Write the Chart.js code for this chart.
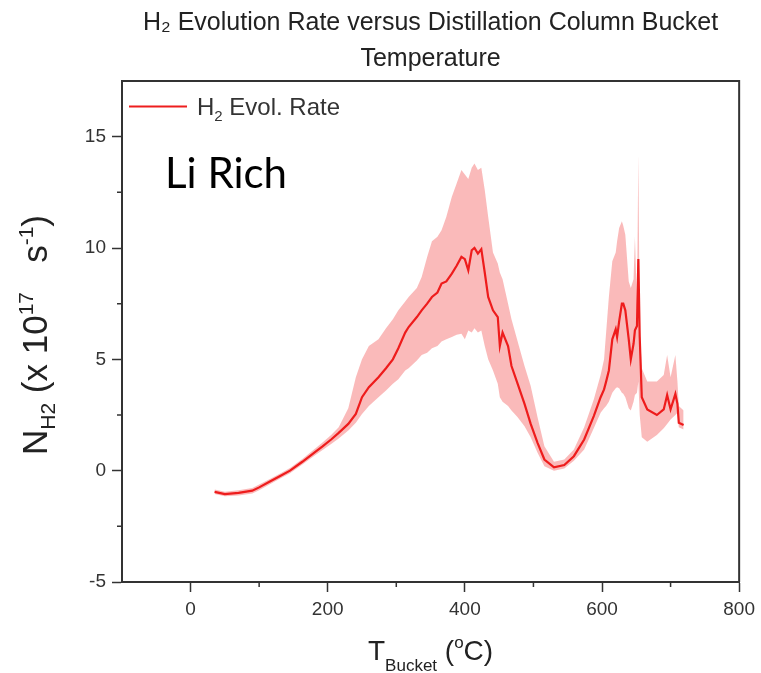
<!DOCTYPE html>
<html>
<head>
<meta charset="utf-8">
<script src="https://cdn.jsdelivr.net/npm/chart.js@4/dist/chart.umd.min.js"></script>
<style>
html,body{margin:0;padding:0;background:#fff;}
#wrap{position:relative;width:761px;height:673px;}
</style>
</head>
<body>
<div id="wrap"><canvas id="c"></canvas></div>
<script>
// ---- data ----
const temps = [35,50,70,90,100,115,130,145,163,180,192,205,216,230,241,250,260,274,285,295,303,313,318,330,337,345,352,360,366,373,381,388,395,400,405,410,414,419,424,429,434,441,448,451,455,463,468,477,487,496,506,516,530,545,559,574,588,598,603,606,610,615,620,622,625,629,631,634,639,642,646,648,651,653,655,658,666,680,690,695,700,707,710,712,719];
const meanRate = [-0.95,-1.05,-1.0,-0.9,-0.75,-0.5,-0.25,0.0,0.4,0.8,1.08,1.4,1.7,2.1,2.55,3.3,3.75,4.2,4.6,5.0,5.5,6.2,6.45,6.9,7.2,7.5,7.8,8.0,8.4,8.5,8.85,9.2,9.6,9.5,9.0,9.9,10.0,9.75,9.95,8.9,7.8,7.2,6.9,5.6,6.2,5.6,4.7,3.9,3.0,2.1,1.25,0.5,0.15,0.25,0.65,1.4,2.45,3.3,3.65,4.0,4.5,5.9,6.35,6.0,6.7,7.5,7.5,7.2,5.9,5.0,5.7,6.3,6.5,9.5,6.0,3.3,2.75,2.5,2.75,3.4,2.75,3.45,3.0,2.15,2.05];
const lowerRate = [-1.05,-1.15,-1.12,-1.02,-0.88,-0.62,-0.36,-0.12,0.28,0.66,0.92,1.2,1.45,1.8,2.15,2.55,2.9,3.3,3.6,3.9,4.1,4.5,4.6,4.95,5.2,5.3,5.5,5.6,5.8,5.9,6.0,6.1,6.15,5.9,6.3,6.2,6.4,6.2,6.3,5.6,5.0,4.5,3.9,3.3,3.1,2.9,2.7,2.4,2.0,1.5,0.8,0.2,0.0,0.1,0.45,0.95,1.9,2.6,2.8,2.9,3.1,3.5,3.7,3.75,3.7,3.5,3.45,3.3,2.8,2.7,3.1,3.4,3.5,4.0,2.5,1.5,1.3,1.6,1.9,2.1,2.3,2.5,2.6,1.95,1.85];
const upperRate = [-0.85,-0.95,-0.88,-0.78,-0.62,-0.38,-0.14,0.12,0.52,0.95,1.25,1.6,1.95,2.8,4.2,5.0,5.6,5.9,6.4,6.8,7.2,7.6,7.8,8.2,8.7,9.6,10.3,10.5,10.8,11.4,12.3,12.9,13.5,13.3,13.1,13.6,13.8,13.5,13.6,12.6,11.4,9.8,9.3,8.9,8.6,7.5,6.8,5.8,4.7,3.8,2.4,1.1,0.4,0.5,0.95,1.95,3.2,4.3,5.0,6.2,7.8,9.4,9.8,10.3,10.9,11.2,11.0,10.6,8.5,8.2,8.6,10.5,7.5,14.2,6.5,4.6,4.0,4.0,4.3,5.2,4.2,5.2,4.0,2.9,2.7];
const xMinorTicks = [100,300,500,700];
const yMinorTicks = [-2.5,2.5,7.5,12.5];
const titleLines = ['H\u2082 Evolution Rate versus Distillation Column Bucket','Temperature'];
const legendLabel = ['H','2',' Evol. Rate'];
const annotationText = 'Li Rich';

const pts = arr => temps.map((t,i)=>({x:t,y:arr[i]}));
const SANS = "'Liberation Sans', Arial, Helvetica, sans-serif";
const AX = '#333';

function drawRich(ctx, segs, x, y, align){
  let w = 0;
  segs.forEach(s=>{ctx.font=s.font; s.w=ctx.measureText(s.t).width; w+=s.w;});
  let cx = align==='center' ? x-w/2 : x;
  segs.forEach(s=>{ctx.font=s.font; ctx.fillText(s.t,cx,y+(s.dy||0)); cx+=s.w;});
}

const decor = {
  id:'decor',
  afterDraw(chart){
    const {ctx, chartArea:a, scales:{x,y}} = chart;
    ctx.save();
    // frame (top & right)
    ctx.strokeStyle = AX; ctx.lineWidth = 2;
    ctx.beginPath();
    ctx.moveTo(a.left, a.top); ctx.lineTo(a.right, a.top); ctx.lineTo(a.right, a.bottom);
    ctx.stroke();
    // minor ticks
    ctx.lineWidth = 1.5;
    ctx.beginPath();
    xMinorTicks.forEach(v=>{const px=x.getPixelForValue(v); ctx.moveTo(px,a.bottom); ctx.lineTo(px,a.bottom+5);});
    yMinorTicks.forEach(v=>{const py=y.getPixelForValue(v); ctx.moveTo(a.left,py); ctx.lineTo(a.left-5,py);});
    ctx.stroke();
    // legend
    ctx.strokeStyle = 'rgb(238,30,30)'; ctx.lineWidth = 2.2;
    ctx.beginPath(); ctx.moveTo(129,106.5); ctx.lineTo(187,106.5); ctx.stroke();
    ctx.fillStyle = '#333'; ctx.textBaseline='alphabetic'; ctx.textAlign='left';
    drawRich(ctx,[
      {t:legendLabel[0],font:'24px '+SANS},
      {t:legendLabel[1],font:'15px '+SANS,dy:6},
      {t:legendLabel[2],font:'24px '+SANS}
    ],197,115,'left');
    // annotation
    ctx.fillStyle = '#000';
    ctx.font = "42px Lato, 'Open Sans', sans-serif";
    ctx.fillText(annotationText,165,188);
    // x title
    ctx.fillStyle = '#222';
    drawRich(ctx,[
      {t:'T',font:'28px '+SANS},
      {t:'Bucket',font:'17px '+SANS,dy:11},
      {t:' (',font:'28px '+SANS},
      {t:'o',font:'17px '+SANS,dy:-12},
      {t:'C)',font:'28px '+SANS}
    ],(a.left+a.right)/2,660,'center');
    // y title
    ctx.translate(47,335); ctx.rotate(-Math.PI/2);
    drawRich(ctx,[
      {t:'N',font:'35px '+SANS},
      {t:'H2',font:'21px '+SANS,dy:8},
      {t:' (x 10',font:'35px '+SANS},
      {t:'17',font:'21px '+SANS,dy:-14},
      {t:'   s',font:'35px '+SANS},
      {t:'-1',font:'21px '+SANS,dy:-14},
      {t:')',font:'35px '+SANS}
    ],0,0,'center');
    ctx.restore();
  }
};

new Chart(document.getElementById('c'),{
  type:'line',
  data:{datasets:[
    {label:'H\u2082 Evol. Rate',data:pts(meanRate),borderColor:'rgb(238,28,28)',borderWidth:2.2,pointRadius:0,fill:false,tension:0},
    {label:'lower',data:pts(lowerRate),borderWidth:0,borderColor:'rgba(0,0,0,0)',pointRadius:0,fill:false,tension:0},
    {label:'upper',data:pts(upperRate),borderWidth:0,borderColor:'rgba(0,0,0,0)',pointRadius:0,fill:1,backgroundColor:'rgba(247,140,140,0.6)',tension:0}
  ]},
  options:{
    responsive:true,maintainAspectRatio:false,animation:false,
    layout:{padding:{left:82,right:18,top:0,bottom:51}},
    plugins:{
      legend:{display:false},
      tooltip:{enabled:false},
      title:{display:true,text:titleLines,fullSize:false,color:'#222',
        font:{family:SANS,size:25,weight:'normal',lineHeight:1.44},padding:{top:5,bottom:4}}
    },
    scales:{
      x:{type:'linear',min:-100,max:800,
        ticks:{stepSize:200,includeBounds:false,color:'#333',font:{family:SANS,size:19},padding:6,maxRotation:0},
        grid:{drawOnChartArea:false,drawTicks:true,tickLength:10,tickColor:AX,tickWidth:1.5},
        border:{display:true,color:AX,width:2},
        afterFit(s){s.height=40;}
      },
      y:{type:'linear',min:-5,max:17.5,
        ticks:{stepSize:5,includeBounds:false,color:'#333',font:{family:SANS,size:19},padding:6},
        grid:{drawOnChartArea:false,drawTicks:true,tickLength:10,tickColor:AX,tickWidth:1.5},
        border:{display:true,color:AX,width:2},
        afterFit(s){s.width=40;}
      }
    }
  },
  plugins:[decor]
});
</script>
</body>
</html>
